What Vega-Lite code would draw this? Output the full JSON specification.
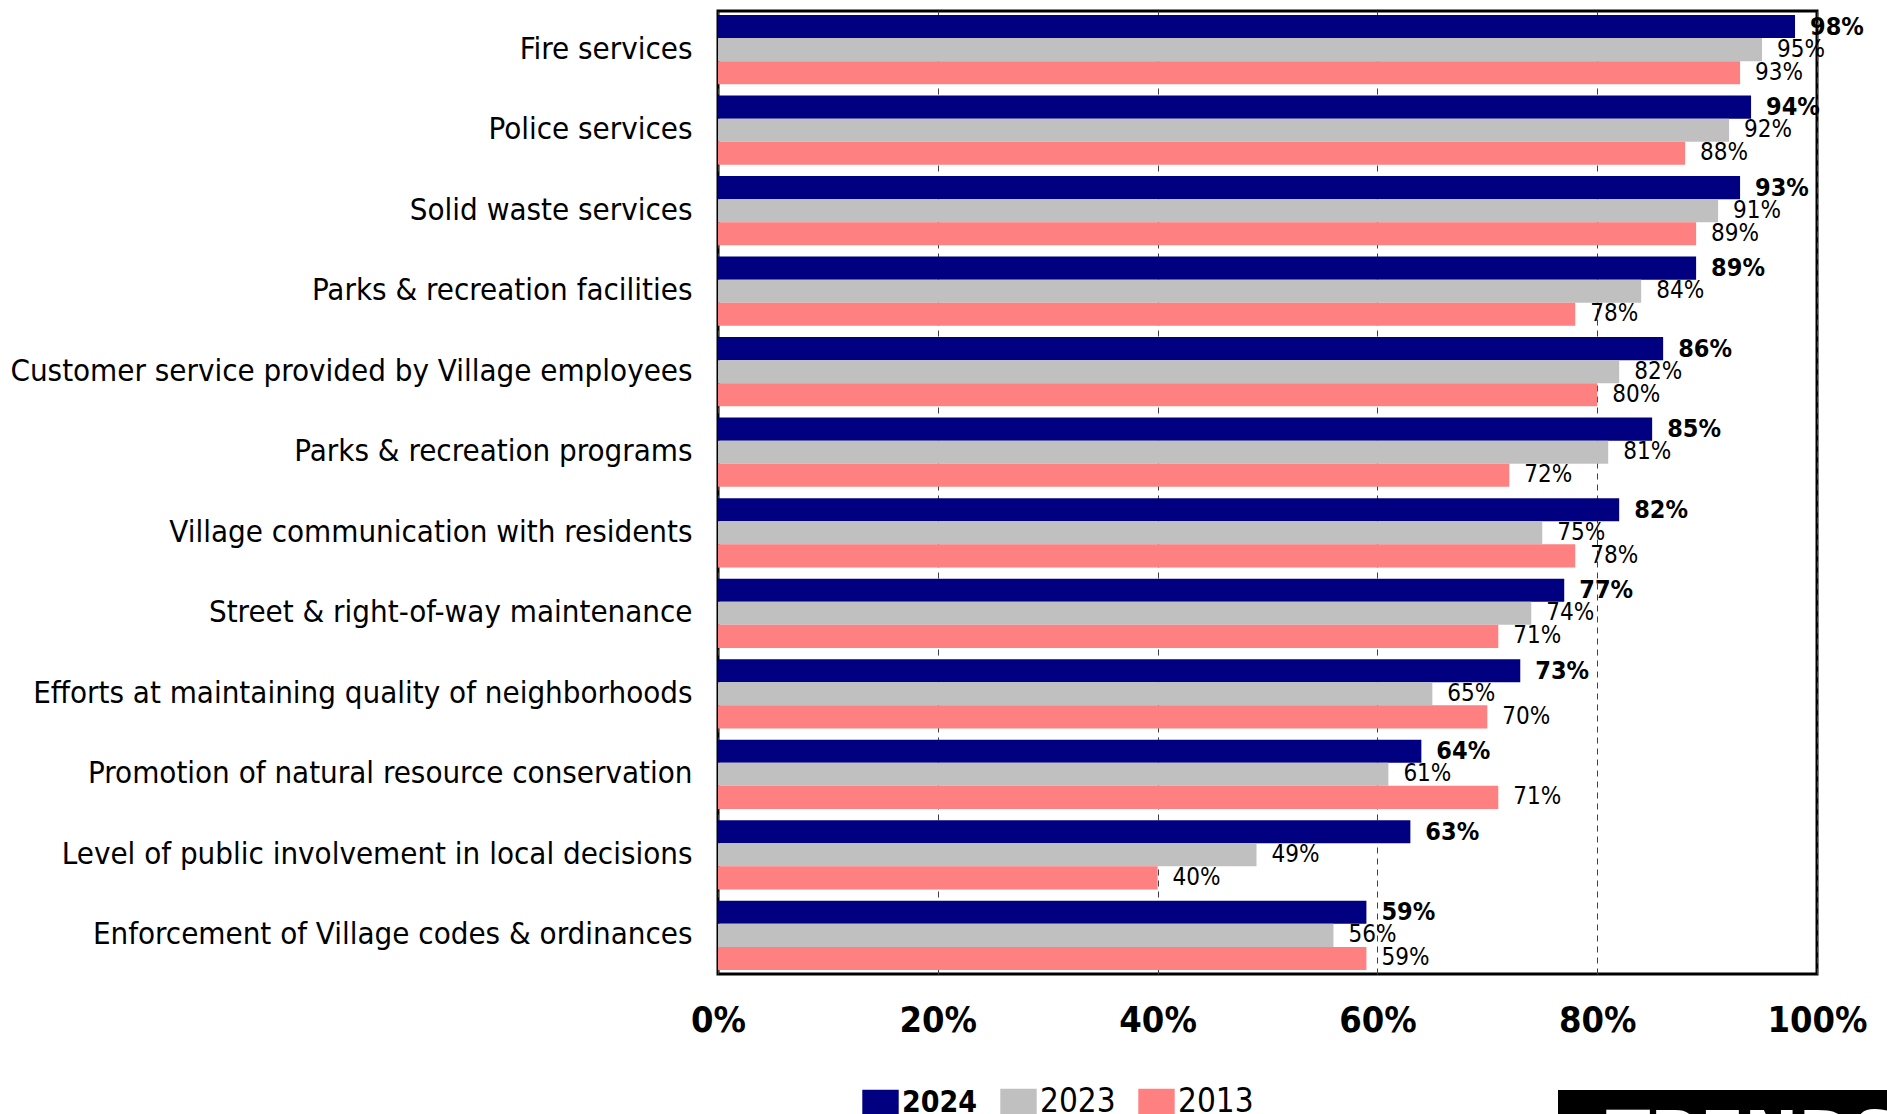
{
  "$schema": "https://vega.github.io/schema/vega-lite/v6.json",
  "autosize": {"type": "none"},
  "padding": {"left": 718, "top": 11, "right": 70, "bottom": 140},
  "width": 1099,
  "height": 963,
  "background": "white",
  "config": {
    "font": "DejaVu Sans Condensed, sans-serif",
    "view": {"stroke": "black", "strokeWidth": 3}
  },
  "data": {
    "values": [
      {"service": "Fire services", "year": "2024", "pct": 0.98},
      {"service": "Fire services", "year": "2023", "pct": 0.95},
      {"service": "Fire services", "year": "2013", "pct": 0.93},
      {"service": "Police services", "year": "2024", "pct": 0.94},
      {"service": "Police services", "year": "2023", "pct": 0.92},
      {"service": "Police services", "year": "2013", "pct": 0.88},
      {"service": "Solid waste services", "year": "2024", "pct": 0.93},
      {"service": "Solid waste services", "year": "2023", "pct": 0.91},
      {"service": "Solid waste services", "year": "2013", "pct": 0.89},
      {"service": "Parks & recreation facilities", "year": "2024", "pct": 0.89},
      {"service": "Parks & recreation facilities", "year": "2023", "pct": 0.84},
      {"service": "Parks & recreation facilities", "year": "2013", "pct": 0.78},
      {"service": "Customer service provided by Village employees", "year": "2024", "pct": 0.86},
      {"service": "Customer service provided by Village employees", "year": "2023", "pct": 0.82},
      {"service": "Customer service provided by Village employees", "year": "2013", "pct": 0.80},
      {"service": "Parks & recreation programs", "year": "2024", "pct": 0.85},
      {"service": "Parks & recreation programs", "year": "2023", "pct": 0.81},
      {"service": "Parks & recreation programs", "year": "2013", "pct": 0.72},
      {"service": "Village communication with residents", "year": "2024", "pct": 0.82},
      {"service": "Village communication with residents", "year": "2023", "pct": 0.75},
      {"service": "Village communication with residents", "year": "2013", "pct": 0.78},
      {"service": "Street & right-of-way maintenance", "year": "2024", "pct": 0.77},
      {"service": "Street & right-of-way maintenance", "year": "2023", "pct": 0.74},
      {"service": "Street & right-of-way maintenance", "year": "2013", "pct": 0.71},
      {"service": "Efforts at maintaining quality of neighborhoods", "year": "2024", "pct": 0.73},
      {"service": "Efforts at maintaining quality of neighborhoods", "year": "2023", "pct": 0.65},
      {"service": "Efforts at maintaining quality of neighborhoods", "year": "2013", "pct": 0.70},
      {"service": "Promotion of natural resource conservation", "year": "2024", "pct": 0.64},
      {"service": "Promotion of natural resource conservation", "year": "2023", "pct": 0.61},
      {"service": "Promotion of natural resource conservation", "year": "2013", "pct": 0.71},
      {"service": "Level of public involvement in local decisions", "year": "2024", "pct": 0.63},
      {"service": "Level of public involvement in local decisions", "year": "2023", "pct": 0.49},
      {"service": "Level of public involvement in local decisions", "year": "2013", "pct": 0.40},
      {"service": "Enforcement of Village codes & ordinances", "year": "2024", "pct": 0.59},
      {"service": "Enforcement of Village codes & ordinances", "year": "2023", "pct": 0.56},
      {"service": "Enforcement of Village codes & ordinances", "year": "2013", "pct": 0.59}
    ]
  },
  "encoding": {
    "y": {
      "field": "service", "type": "nominal", "sort": null,
      "scale": {"paddingInner": 0.14, "paddingOuter": 0.05},
      "axis": {
        "title": null, "ticks": false, "domain": false,
        "labelFontSize": 31, "labelColor": "black", "labelPadding": 26, "labelLimit": 800
      }
    },
    "yOffset": {
      "field": "year", "type": "nominal",
      "scale": {"domain": ["2024", "2023", "2013"], "paddingInner": 0, "paddingOuter": 0}
    },
    "x": {
      "field": "pct", "type": "quantitative",
      "scale": {"domain": [0, 1], "nice": false},
      "axis": {
        "title": null, "format": ".0%", "values": [0, 0.2, 0.4, 0.6, 0.8, 1],
        "ticks": false, "domain": false,
        "labelFontSize": 36, "labelFontWeight": "bold", "labelColor": "black", "labelPadding": 29,
        "labelFlush": false,
        "grid": true, "gridColor": "#404040", "gridDash": [6, 5], "gridWidth": 1
      }
    }
  },
  "layer": [
    {
      "mark": {"type": "bar"},
      "encoding": {
        "color": {
          "field": "year", "type": "nominal",
          "scale": {"domain": ["2024", "2023", "2013"], "range": ["#000080", "#C0C0C0", "#FF8080"]},
          "legend": {
            "title": null, "orient": "none", "direction": "horizontal",
            "legendX": 146, "legendY": 1074,
            "symbolType": "M-1.4,-1H1.4V1H-1.4Z", "symbolSize": 676,
            "symbolStrokeWidth": 0, "symbolOpacity": 1,
            "labelFontSize": 32, "labelColor": "black", "labelOffset": 5, "columnPadding": 22,
            "labelLimit": 300,
            "encode": {"labels": {"update": {
              "fontWeight": {"signal": "datum.label === '2024' ? 'bold' : 'normal'"},
              "fontSize": {"signal": "datum.label === '2024' ? 30 : 33"}
            }}}
          }
        }
      }
    },
    {
      "transform": [{"filter": "datum.year === '2024'"}],
      "mark": {"type": "text", "align": "left", "baseline": "middle", "dx": 15, "fontSize": 25, "fontWeight": "bold", "color": "black"},
      "encoding": {
        "text": {"field": "pct", "type": "quantitative", "format": ".0%"}
      }
    },
    {
      "transform": [{"filter": "datum.year !== '2024'"}],
      "mark": {"type": "text", "align": "left", "baseline": "middle", "dx": 15, "fontSize": 24, "color": "black"},
      "encoding": {
        "text": {"field": "pct", "type": "quantitative", "format": ".0%"},
        "opacity": {
          "datum": "TRENDS", "type": "nominal",
          "scale": {"domain": ["TRENDS"], "range": [1, 1]},
          "legend": {
            "title": null, "orient": "none", "legendX": 840, "legendY": 1079,
            "fillColor": "black", "padding": 14,
            "symbolSize": 0, "symbolStrokeWidth": 0, "symbolOpacity": 0,
            "labelColor": "white", "labelFontSize": 72, "labelFontWeight": "bold",
            "labelOffset": -38, "labelLimit": 600
          }
        }
      }
    }
  ]
}
